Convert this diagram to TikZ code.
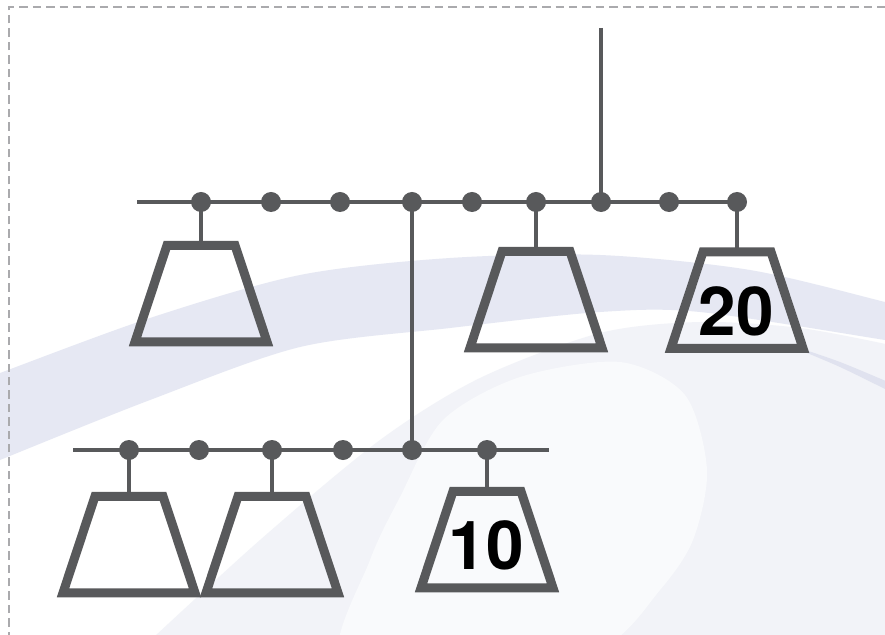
\documentclass[tikz,border=0pt]{standalone}
\usepackage{fontspec}
\setmainfont{TeX Gyre Heros}
\usepackage{xcolor}
\usepackage{tikz}
\definecolor{busgrey}{HTML}{58595B}
\definecolor{framegrey}{HTML}{AAAAAD}
\definecolor{bandlav}{HTML}{E6E8F3}
\definecolor{stripelav}{HTML}{E0E2EF}
\definecolor{fieldgrey}{HTML}{F2F3F8}
\definecolor{glowwhite}{HTML}{F9FAFC}

\begin{document}
\begin{tikzpicture}[x=0.025cm,y=-0.025cm,
  bus/.style={busgrey,line width=0.1125cm},
  tap/.style={circle,fill=busgrey,minimum size=0.5cm,inner sep=0pt,outer sep=0pt},
  weight/.pic={\draw[busgrey,line width=0.225cm] (-34,0) -- (34,0) -- (66,96.5) -- (-66,96.5) -- cycle;},
  wnum/.style={font=\bfseries\fontsize{48}{50}\selectfont,text=black,inner sep=0pt},
  frame/.style={framegrey,line width=0.065cm,dash pattern=on 0.21cm off 0.125cm}]
\useasboundingbox (0,0) rectangle (885,635);
\clip (0,0) rectangle (885,635);
% backdrop
\fill[white] (0,0) rectangle (885,635);
\fill[fieldgrey] plot[smooth] coordinates {(140,650) (260,540) (380,440) (480,378) (600,333) (700,322) (800,328) (895,346)}
  -- (895,650) -- cycle;
\fill[glowwhite] plot[smooth cycle] coordinates {(340,660) (370,560) (400,497) (443,420) (520,377) (620,362) (685,395)
  (707,470) (693,540) (660,590) (600,650) (450,700)};
\fill[bandlav] plot[smooth] coordinates {(-10,377) (0,373) (150,318) (300,275) (450,258) (600,255) (750,270) (885,302) (895,305)}
  -- plot[smooth] coordinates {(895,342) (885,340) (700,312) (600,312) (450,328) (300,347) (150,400) (0,460) (-10,465)} -- cycle;
\fill[stripelav] plot[smooth] coordinates {(790,345) (840,362) (895,385)}
  -- plot[smooth] coordinates {(895,394) (840,367) (790,346)} -- cycle;
\draw[frame] (9,640) -- (9,7) -- (890,7);
% upper bus
\node[tap] (t1) at (201,202) {};
\node[tap] (t2) at (271,202) {};
\node[tap] (t3) at (340,202) {};
\node[tap] (t4) at (412,202) {};
\node[tap] (t5) at (472,202) {};
\node[tap] (t6) at (536,202) {};
\node[tap] (t7) at (601,202) {};
\node[tap] (t8) at (669,202) {};
\node[tap] (t9) at (737,202) {};
\coordinate (topwest) at (137,202);
\coordinate (feed) at (601,28);
\draw[bus] (topwest) -- (t9.center);
\draw[bus] (feed) -- (t7.center);
% lower bus
\node[tap] (b1) at (129,450) {};
\node[tap] (b2) at (199,450) {};
\node[tap] (b3) at (272,450) {};
\node[tap] (b4) at (343,450) {};
\node[tap] (b5) at (412,450) {};
\node[tap] (b6) at (487,450) {};
\coordinate (lowwest) at (73,450);
\coordinate (loweast) at (549,450);
\draw[bus] (lowwest) -- (loweast);
\draw[bus] (t4.center) -- (b5.center);
% weights, hung by their top edge
\coordinate (w1) at (201,245.3);
\coordinate (w2) at (536,251.3);
\coordinate (w3) at (737,251.8);
\coordinate (w4) at (129,496.3);
\coordinate (w5) at (272,496.3);
\coordinate (w6) at (487,491.3);
\pic at (w1) {weight};
\pic at (w2) {weight};
\pic at (w3) {weight};
\pic at (w4) {weight};
\pic at (w5) {weight};
\pic at (w6) {weight};
\draw[bus] (t1.center) -- (w1);
\draw[bus] (t6.center) -- (w2);
\draw[bus] (t9.center) -- (w3);
\draw[bus] (b1.center) -- (w4);
\draw[bus] (b3.center) -- (w5);
\draw[bus] (b6.center) -- (w6);
\node[wnum] (n20) at (736,311) {20};
\node[wnum] (n10) at (486,545) {10};
\end{tikzpicture}
\end{document}
